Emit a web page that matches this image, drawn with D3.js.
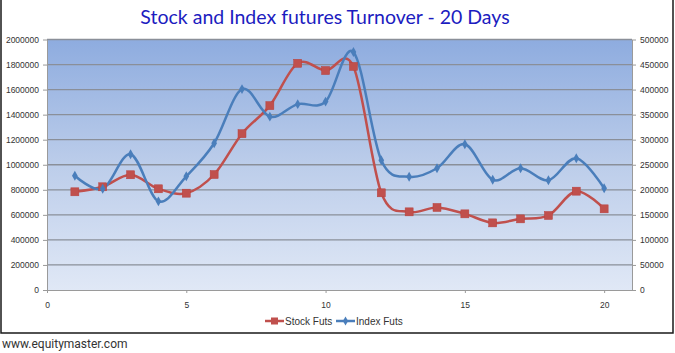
<!DOCTYPE html>
<html>
<head>
<meta charset="utf-8">
<script src="https://cdnjs.cloudflare.com/ajax/libs/d3/7.8.5/d3.min.js"></script>
<style>
  body { margin: 0; background: #fff; }
  svg { display: block; font-family: "Liberation Sans", Arial, sans-serif; }
</style>
</head>
<body>
<svg></svg>
<script>
const days = d3.range(1, 21);
const stockFuts = [784000, 824000, 920000, 808000, 773000, 922000, 1248000, 1472000, 1810000, 1752000,
                   1785000, 776000, 624000, 659000, 608000, 536000, 568000, 595000, 789000, 648000];
const indexFuts = [228000, 202000, 271000, 177000, 227000, 293000, 401000, 346000, 371000, 376000,
                   475000, 259000, 226000, 243000, 291000, 220000, 243000, 219000, 263000, 203000];
const xTicks = [0, 5, 10, 15, 20];
const leftTicks = d3.range(0, 2000001, 200000);
const rightTicks = d3.range(0, 500001, 50000);

const width = 675, height = 353;
const margin = { top: 39.5, right: 43, bottom: 63, left: 47 };

const svg = d3.select('svg')
  .attr('width', width)
  .attr('height', height);

// outer frame
svg.append('path')
  .attr('d', `M1,0 V333 H673 V0`)
  .attr('fill', 'none')
  .attr('stroke', '#1a1a1a')
  .attr('stroke-width', 1.5);

svg.append('text')
  .text('Stock and Index futures Turnover - 20 Days')
  .attr('x', 325)
  .attr('y', 24)
  .attr('text-anchor', 'middle')
  .attr('font-family', 'Lato, "Open Sans", sans-serif')
  .attr('font-size', 19.5)
  .attr('fill', '#1c1cc0');

const x = d3.scaleLinear().domain([0, 21]).range([margin.left, width - margin.right]);
const yL = d3.scaleLinear().domain([0, 2000000]).range([height - margin.bottom, margin.top]);
const yR = d3.scaleLinear().domain([0, 500000]).range([height - margin.bottom, margin.top]);

const defs = svg.append('defs');
const grad = defs.append('linearGradient')
  .attr('id', 'bg').attr('x1', 0).attr('y1', 0).attr('x2', 0).attr('y2', 1);
grad.append('stop').attr('offset', '0%').attr('stop-color', '#8eacdf');
grad.append('stop').attr('offset', '50%').attr('stop-color', '#bccdea');
grad.append('stop').attr('offset', '100%').attr('stop-color', '#e0e8f6');

svg.append('rect')
  .attr('x', x(0)).attr('y', yL(2000000))
  .attr('width', x(21) - x(0))
  .attr('height', yL(0) - yL(2000000))
  .attr('fill', 'url(#bg)');

// gridlines
svg.append('g')
  .selectAll('line')
  .data(leftTicks.slice(1))
  .enter().append('line')
    .attr('x1', x(0)).attr('x2', x(21))
    .attr('y1', d => yL(d)).attr('y2', d => yL(d))
    .attr('stroke', '#8a8f99')
    .attr('stroke-width', 1.3);

const styleAxis = g => {
  g.select('.domain').attr('stroke', '#9a9a9a');
  g.selectAll('.tick line').attr('stroke', '#9a9a9a');
  g.selectAll('.tick text').attr('fill', '#333').attr('font-size', 8.5);
};

svg.append('g')
  .attr('transform', `translate(${x(0)},0)`)
  .call(d3.axisLeft(yL).tickValues(leftTicks).tickFormat(d3.format('d')).tickSize(4).tickSizeOuter(0).tickPadding(4))
  .call(styleAxis);

svg.append('g')
  .attr('transform', `translate(${x(21)},0)`)
  .call(d3.axisRight(yR).tickValues(rightTicks).tickFormat(d3.format('d')).tickSize(4).tickSizeOuter(0).tickPadding(4))
  .call(styleAxis);

svg.append('g')
  .attr('transform', `translate(0,${yL(0)})`)
  .call(d3.axisBottom(x).tickValues(xTicks).tickSize(3).tickSizeOuter(0).tickPadding(9))
  .call(styleAxis);

const curve = d3.curveCatmullRom.alpha(0);

const stockLine = d3.line().x((d, i) => x(days[i])).y(d => yL(d)).curve(curve);
const indexLine = d3.line().x((d, i) => x(days[i])).y(d => yR(d)).curve(curve);

const red = '#c0504d', blue = '#4a7ebb';

svg.append('path').datum(stockFuts)
  .attr('d', stockLine).attr('fill', 'none')
  .attr('stroke', red).attr('stroke-width', 2.5);

svg.append('path').datum(indexFuts)
  .attr('d', indexLine).attr('fill', 'none')
  .attr('stroke', blue).attr('stroke-width', 2.5);

svg.append('g').selectAll('rect')
  .data(stockFuts)
  .enter().append('rect')
    .attr('x', (d, i) => x(days[i]) - 4)
    .attr('y', d => yL(d) - 4)
    .attr('width', 8).attr('height', 8)
    .attr('fill', red).attr('stroke', '#b8403d').attr('stroke-width', 0.5);

svg.append('g').selectAll('path')
  .data(indexFuts)
  .enter().append('path')
    .attr('d', d3.symbol(d3.symbolDiamond, 28))
    .attr('transform', (d, i) => `translate(${x(days[i])},${yR(d)})`)
    .attr('fill', blue);

// legend
const legend = svg.append('g').attr('transform', 'translate(265,321)');
const items = [
  { name: 'Stock Futs', color: red, shape: 'square', dx: 0 },
  { name: 'Index Futs', color: blue, shape: 'diamond', dx: 71 }
];
items.forEach(it => {
  const g = legend.append('g').attr('transform', `translate(${it.dx},0)`);
  g.append('line').attr('x1', 0).attr('x2', 19).attr('y1', 0).attr('y2', 0)
    .attr('stroke', it.color).attr('stroke-width', 2.5);
  if (it.shape === 'square') {
    g.append('rect').attr('x', 6).attr('y', -3.5).attr('width', 7).attr('height', 7).attr('fill', it.color);
  } else {
    g.append('path').attr('d', d3.symbol(d3.symbolDiamond, 24)).attr('transform', 'translate(9.5,0)').attr('fill', it.color);
  }
  g.append('text').text(it.name).attr('x', 20).attr('y', 3.5)
    .attr('font-size', 10).attr('fill', '#333');
});

svg.append('text')
  .text('www.equitymaster.com')
  .attr('x', 2).attr('y', 348)
  .attr('font-family', 'Roboto, sans-serif')
  .attr('font-size', 12)
  .attr('fill', '#333');
</script>
</body>
</html>
